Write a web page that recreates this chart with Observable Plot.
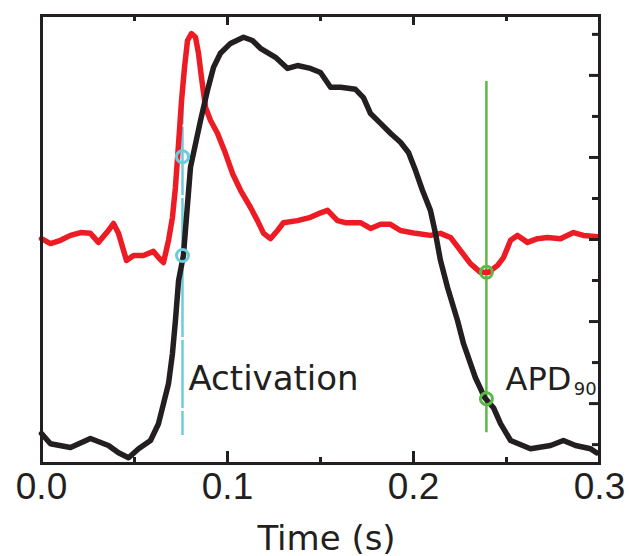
<!DOCTYPE html>
<html>
<head>
<meta charset="utf-8">
<script src="https://cdn.jsdelivr.net/npm/d3@7"></script>
<script src="https://cdn.jsdelivr.net/npm/@observablehq/plot@0.6"></script>
<style>
  html, body { margin: 0; padding: 0; background: #ffffff; }
</style>
</head>
<body>
<div id="chart"></div>
<script>
// ---- data (time in s, signal in arbitrary normalized units) ----
const blackTime = [0.0000,0.0048,0.0156,0.0263,0.0360,0.0414,0.0468,0.0522,0.0586,0.0629,0.0656,0.0683,0.0704,0.0720,0.0737,0.0763,0.0801,0.0855,0.0892,0.0925,0.0962,0.1016,0.1086,0.1134,0.1177,0.1258,0.1323,0.1376,0.1446,0.1500,0.1554,0.1608,0.1688,0.1731,0.1769,0.1823,0.1876,0.1930,0.1973,0.2011,0.2048,0.2091,0.2118,0.2145,0.2183,0.2237,0.2269,0.2333,0.2382,0.2430,0.2468,0.2522,0.2629,0.2737,0.2806,0.2871,0.2952,0.2984];
const blackValue = [0.27,0.02,-0.07,0.15,-0.02,-0.20,-0.32,-0.10,0.10,0.51,1.00,1.49,2.22,3.02,4.00,4.61,6.76,7.90,8.63,9.20,9.54,9.78,9.93,9.85,9.66,9.44,9.17,9.24,9.17,9.07,8.71,8.71,8.66,8.46,8.07,7.83,7.59,7.37,7.12,6.68,6.20,5.71,5.15,4.49,3.83,3.02,2.46,1.63,1.15,0.90,0.51,0.10,-0.10,-0.02,0.10,-0.02,-0.10,-0.20];

const redTime = [0.0000,0.0048,0.0102,0.0156,0.0210,0.0263,0.0306,0.0360,0.0387,0.0414,0.0457,0.0495,0.0548,0.0602,0.0629,0.0656,0.0683,0.0704,0.0720,0.0737,0.0753,0.0769,0.0785,0.0806,0.0828,0.0844,0.0860,0.0882,0.0909,0.0946,0.0989,0.1027,0.1070,0.1124,0.1161,0.1194,0.1231,0.1269,0.1301,0.1376,0.1446,0.1489,0.1538,0.1591,0.1634,0.1715,0.1769,0.1823,0.1876,0.1930,0.2011,0.2091,0.2145,0.2199,0.2253,0.2306,0.2360,0.2403,0.2452,0.2484,0.2522,0.2559,0.2613,0.2667,0.2720,0.2790,0.2860,0.2914,0.2989];
const redValue = [5.02,4.90,4.98,5.10,5.17,5.15,4.93,5.22,5.39,5.15,4.49,4.61,4.61,4.71,4.56,4.44,4.98,5.54,6.27,7.34,8.39,9.20,9.85,10.02,9.93,9.54,8.95,8.22,7.90,7.59,7.10,6.61,6.20,5.78,5.46,5.15,5.02,5.22,5.41,5.46,5.54,5.63,5.71,5.46,5.41,5.41,5.27,5.37,5.37,5.22,5.15,5.10,5.15,5.05,4.73,4.41,4.20,4.20,4.37,4.56,4.98,5.10,4.93,5.02,5.05,5.02,5.17,5.10,5.07];

// markers
const markerTime  = [0.0758, 0.0758, 0.2392, 0.2392];
const markerValue = [7.02, 4.61, 4.20, 1.12];
const markerKind  = ["activation", "activation", "apd", "apd"];

// vertical marker lines
const lineTime   = [0.0758, 0.2392];
const lineTop    = [8.68, 8.85];
const lineBottom = [0.22, 0.29];
const lineKind   = ["activation", "apd"];

// annotations
const annotText  = ["Activation", "APD"];
const annotTime  = [0.0790, 0.2495];
const annotValue = [1.32, 1.32];
const subText = ["90"], subTime = [0.2862], subValue = [1.20];

// ticks
const xTickLabels = [0, 0.1, 0.2, 0.3];
const xMajorTicks = [0.1, 0.2];
const xMinorTicks = [0.05, 0.15, 0.25];
const yLongTicks  = [1, 3, 5, 7, 9];
const yShortTicks = [0, 2, 4, 6, 8, 10];
const axisTitle = "Time (s)";

// ---- build ----
const INK = "#231f20", RED = "#ed1c24", CYAN = "#6ccbdc", GREEN = "#5bb947";
const kindColor = {activation: CYAN, apd: GREEN};

const black = blackTime.map((t, i) => ({t, v: blackValue[i]}));
const red = redTime.map((t, i) => ({t, v: redValue[i]}));
const markers = markerTime.map((t, i) => ({t, v: markerValue[i], kind: markerKind[i]}));
const vlines = lineTime.map((t, i) => ({t, top: lineTop[i], bottom: lineBottom[i], kind: lineKind[i]}));
const annots = annotText.map((label, i) => ({label, t: annotTime[i], v: annotValue[i], size: i === 0 ? 34 : 32}));
const subs = subText.map((label, i) => ({label, t: subTime[i], v: subValue[i]}));

const LABEL_FONT = "'DejaVu Sans', 'Liberation Sans', sans-serif";

const svg = Plot.plot({
  width: 629,
  height: 556,
  marginLeft: 41,
  marginRight: 30,
  marginTop: 15,
  marginBottom: 93,
  style: {fontFamily: "'Liberation Sans', Arial, sans-serif", background: "#ffffff", color: INK},
  x: {domain: [0, 0.3]},
  y: {domain: [-0.46, 10.46]},
  marks: [
    Plot.ruleX(vlines.filter(d => d.kind === "activation"), {x: "t", y1: "top", y2: "bottom", stroke: CYAN, strokeWidth: 2.5, strokeDasharray: "68,3", strokeDashoffset: 32}),
    Plot.ruleX(vlines.filter(d => d.kind === "apd"), {x: "t", y1: "top", y2: "bottom", stroke: GREEN, strokeWidth: 2.5}),
    Plot.line(red, {x: "t", y: "v", stroke: RED, strokeWidth: 5.5, strokeLinejoin: "round", strokeLinecap: "round"}),
    Plot.line(black, {x: "t", y: "v", stroke: INK, strokeWidth: 5.5, strokeLinejoin: "round", strokeLinecap: "round"}),
    Plot.dot(markers, {x: "t", y: "v", r: 6, fill: "none", stroke: d => kindColor[d.kind], strokeWidth: 3}),
    Plot.text(annots, {x: "t", y: "v", text: "label", textAnchor: "start", lineAnchor: "bottom", fontSize: d => d.size, fontFamily: LABEL_FONT, fill: INK}),
    Plot.text(subs, {x: "t", y: "v", text: "label", textAnchor: "start", lineAnchor: "bottom", fontSize: 18, fontFamily: LABEL_FONT, fill: INK}),
    // inward ticks
    Plot.axisX(xMajorTicks, {anchor: "bottom", tickSize: -12, strokeWidth: 3, fill: "none", label: null}),
    Plot.axisX(xMinorTicks, {anchor: "bottom", tickSize: -6, strokeWidth: 3, fill: "none", label: null}),
    Plot.axisX(xMajorTicks, {anchor: "top", tickSize: -9, strokeWidth: 3, fill: "none", label: null}),
    Plot.axisX(xMinorTicks, {anchor: "top", tickSize: -5, strokeWidth: 3, fill: "none", label: null}),
    Plot.axisY(yLongTicks, {anchor: "right", tickSize: -11, strokeWidth: 3, fill: "none", label: null}),
    Plot.axisY(yShortTicks, {anchor: "right", tickSize: -8, strokeWidth: 3, fill: "none", label: null}),
    // tick labels
    Plot.axisX(xTickLabels, {anchor: "bottom", tickSize: 0, tickPadding: 9, tickFormat: d3.format(".1f"), fontSize: 37, fill: INK, label: null}),
    Plot.text([axisTitle], {text: d => d, frameAnchor: "bottom", dy: 86, dx: 6, fontSize: 34, fontFamily: LABEL_FONT, fill: INK}),
    Plot.frame({stroke: INK, strokeWidth: 3})
  ]
});

document.getElementById("chart").appendChild(svg);
</script>
</body>
</html>
